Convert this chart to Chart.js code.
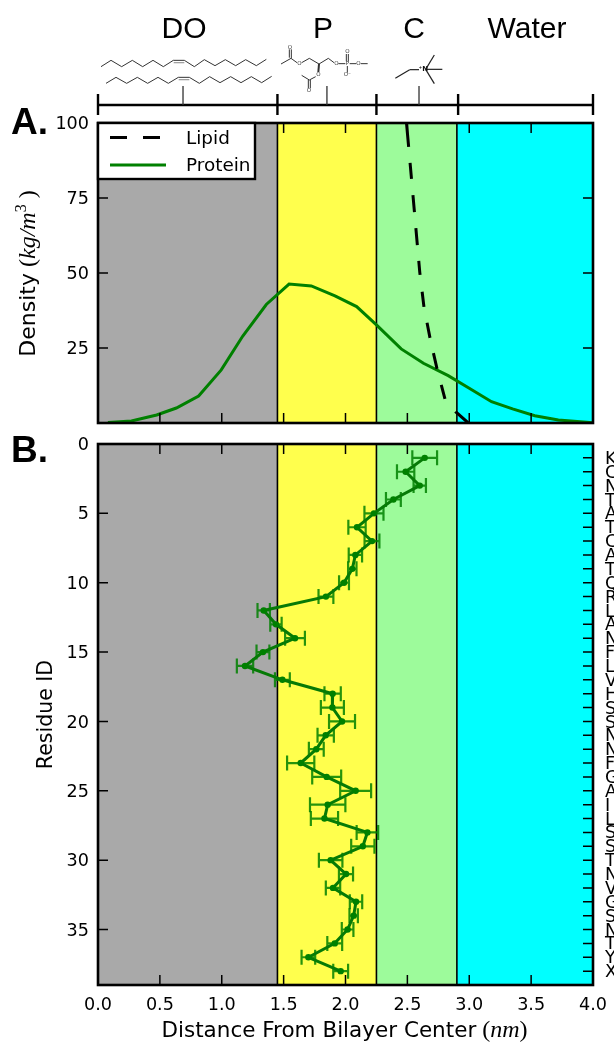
<!DOCTYPE html>
<html><head><meta charset="utf-8">
<style>
html,body{margin:0;padding:0;background:#fff;overflow:hidden;width:614px;height:1043px}
canvas{position:absolute;left:0;display:block}
</style>
<script src="https://cdn.jsdelivr.net/npm/chart.js@4/dist/chart.umd.min.js"></script>
</head><body>
<canvas id="a" width="614" height="433" style="top:0"></canvas>
<canvas id="b" width="614" height="610" style="top:433px"></canvas>
<script>
// ---- data ----
const regionNames = ['DO','P','C','Water'];
const regionEdges = [0,1.45,2.25,2.9,4];
const regionColors = ['#a9a9a9','#ffff4d','#9dfb9b','#00ffff'];
const bracketEdges = [0,1.45,2.25,2.91,4];
const bracketPointers = [0.687,1.85,2.594];

const proteinX = [0.08,0.27,0.474,0.633,0.813,0.996,1.17,1.36,1.544,1.724,1.915,2.09,2.25,2.45,2.63,2.83,3.0,3.18,3.35,3.53,3.72,4.0];
const proteinY = [0.2,0.7,2.67,5,9,17.7,29,39.5,46.3,45.7,42.4,38.8,32.7,24.7,19.9,15.8,11.6,7.1,4.7,2.4,1,0.1];
const lipidX = [2.493,2.545,2.60,2.634,2.683,2.74,2.804,2.889,2.99];
const lipidY = [100,76,50.3,38.7,28.3,18,8,3.8,0.1];

const residues = ['K','C','N','T','A','T','C','A','T','Q','R','L','A','N','F','L','V','H','S','S','N','N','F','G','A','I','L','S','S','T','N','V','G','S','N','T','Y','X'];
const depth = [2.64,2.486,2.60,2.387,2.23,2.093,2.214,2.08,2.055,1.988,1.842,1.339,1.438,1.592,1.333,1.188,1.49,1.896,1.894,1.972,1.84,1.764,1.638,1.848,2.082,1.856,1.83,2.177,2.14,1.88,2.004,1.899,2.085,2.066,2.017,1.913,1.70,1.961];
const depthErr = [0.10,0.07,0.05,0.06,0.077,0.07,0.06,0.054,0.034,0.04,0.06,0.05,0.046,0.08,0.052,0.066,0.06,0.066,0.093,0.105,0.066,0.06,0.11,0.117,0.125,0.143,0.11,0.087,0.094,0.095,0.057,0.058,0.05,0.034,0.047,0.06,0.055,0.06];

const serif = 'italic 24px "Liberation Serif"';
const serifUp = '24px "Liberation Serif"';
const sans = 'DejaVu Sans';
const BLACK = '#000';

function rotatedMixed(ctx, parts, x, y, rot){
  ctx.save();
  ctx.translate(x,y); ctx.rotate(rot);
  let total=0;
  parts.forEach(p=>{ctx.font=p.font; total+=ctx.measureText(p.t).width+(p.gap||0);});
  let cx=-total/2;
  ctx.textAlign='left'; ctx.textBaseline='alphabetic'; ctx.fillStyle=BLACK;
  parts.forEach(p=>{ctx.font=p.font; ctx.fillText(p.t,cx,p.dy||0); cx+=ctx.measureText(p.t).width+(p.gap||0);});
  ctx.restore();
}

function poly(ctx, pts, ox, oy){
  ctx.beginPath();
  pts.forEach((p,i)=>{const x=ox+p[0]/3,y=oy+p[1]/3; i?ctx.lineTo(x,y):ctx.moveTo(x,y);});
  ctx.stroke();
}

const bands = {
  id:'bands',
  beforeDatasetsDraw(c){
    const {ctx,chartArea:a,scales:{x}}=c;
    ctx.save();
    regionColors.forEach((col,i)=>{
      const l=x.getPixelForValue(regionEdges[i]), r=x.getPixelForValue(regionEdges[i+1]);
      ctx.fillStyle=col; ctx.fillRect(l,a.top,r-l,a.bottom-a.top);
    });
    ctx.strokeStyle=BLACK; ctx.lineWidth=1.6;
    regionEdges.slice(1,-1).forEach(v=>{
      const p=x.getPixelForValue(v);
      ctx.beginPath(); ctx.moveTo(p,a.top); ctx.lineTo(p,a.bottom); ctx.stroke();
    });
    ctx.restore();
  }
};

const errorBars = {
  id:'errorBars',
  beforeDatasetsDraw(c){
    if(c.canvas.id!=='b') return;
    const {ctx,scales:{x,y}}=c;
    ctx.save();
    ctx.strokeStyle='rgba(0,128,0,0.85)'; ctx.lineWidth=2.2;
    depth.forEach((d,i)=>{
      const py=y.getPixelForValue(i+1), l=x.getPixelForValue(d-depthErr[i]), r=x.getPixelForValue(d+depthErr[i]);
      ctx.beginPath();
      ctx.moveTo(l,py); ctx.lineTo(r,py);
      ctx.moveTo(l,py-7.5); ctx.lineTo(l,py+7.5);
      ctx.moveTo(r,py-7.5); ctx.lineTo(r,py+7.5);
      ctx.stroke();
    });
    ctx.restore();
  }
};

const frame = {
  id:'frame',
  afterDatasetsDraw(c){
    const {ctx,chartArea:a,scales}=c, {x,y,yr}=scales;
    const L=10;
    ctx.save();
    ctx.strokeStyle=BLACK; ctx.lineWidth=1.5;
    ctx.beginPath();
    x.ticks.forEach(t=>{
      if(t.value<=0||t.value>=4) return;
      const p=x.getPixelForValue(t.value);
      ctx.moveTo(p,a.top); ctx.lineTo(p,a.top+L);
      ctx.moveTo(p,a.bottom); ctx.lineTo(p,a.bottom-L);
    });
    y.ticks.forEach(t=>{
      if(t.value<=y.min||t.value>=y.max) return;
      const p=y.getPixelForValue(t.value);
      ctx.moveTo(a.left,p); ctx.lineTo(a.left+L,p);
      if(!yr){ctx.moveTo(a.right,p); ctx.lineTo(a.right-L,p);}
    });
    if(yr) yr.ticks.forEach(t=>{
      if(t.value<=yr.min||t.value>=yr.max) return;
      const p=yr.getPixelForValue(t.value);
      ctx.moveTo(a.right,p); ctx.lineTo(a.right-L,p);
    });
    ctx.stroke();
    ctx.restore();
  },
  afterDraw(c){
    const {ctx,chartArea:a}=c;
    ctx.save();
    ctx.strokeStyle=BLACK; ctx.lineWidth=2.6;
    ctx.strokeRect(a.left,a.top,a.right-a.left,a.bottom-a.top);
    ctx.restore();
  }
};

const decorA = {
  id:'decorA',
  afterDraw(c){
    const {ctx,chartArea:a,scales:{x}}=c;
    ctx.save();
    // legend
    ctx.fillStyle='#fff'; ctx.strokeStyle=BLACK; ctx.lineWidth=2.4;
    ctx.fillRect(a.left,a.top,157,56); ctx.strokeRect(a.left,a.top,157,56);
    ctx.lineWidth=3;
    ctx.strokeStyle=BLACK; ctx.setLineDash([17,16]);
    ctx.beginPath(); ctx.moveTo(110,137.5); ctx.lineTo(166,137.5); ctx.stroke();
    ctx.setLineDash([]);
    ctx.strokeStyle='#008000';
    ctx.beginPath(); ctx.moveTo(110,165); ctx.lineTo(166,165); ctx.stroke();
    ctx.fillStyle=BLACK; ctx.font='18.4px "'+sans+'"'; ctx.textAlign='left'; ctx.textBaseline='alphabetic';
    c.data.datasets.forEach((d,i)=>ctx.fillText(d.label,186,i?171:144));

    // headings
    ctx.font='30px "Liberation Sans"'; ctx.textAlign='center';
    [184,323,414,527].forEach((px,i)=>ctx.fillText(regionNames[i],px,38));
    ctx.textAlign='left';
    ctx.font='bold 37px "Liberation Sans"';
    ctx.fillText('A.',11,134);

    // bracket
    ctx.strokeStyle=BLACK; ctx.lineWidth=2.4;
    ctx.beginPath();
    ctx.moveTo(x.getPixelForValue(0),105); ctx.lineTo(x.getPixelForValue(4),105);
    bracketEdges.forEach(v=>{const p=x.getPixelForValue(v); ctx.moveTo(p,94); ctx.lineTo(p,115);});
    ctx.stroke();
    ctx.lineWidth=1.3; ctx.strokeStyle='#333';
    ctx.beginPath();
    bracketPointers.forEach(v=>{const p=x.getPixelForValue(v); ctx.moveTo(p,86); ctx.lineTo(p,105);});
    ctx.stroke();

    // lipid structure sketches
    ctx.strokeStyle='#333'; ctx.lineWidth=1; ctx.lineJoin='round';
    poly(ctx,[[18,65],[48,46],[80,65],[112,46],[143,65],[174,46],[205,65],[235,46],[268,46],[298,65],[328,44],[360,62],[391,44],[422,62],[452,44],[484,62],[514,43]],95,45);
    poly(ctx,[[33,115],[63,97],[95,115],[127,97],[158,115],[189,97],[220,115],[250,97],[283,97],[313,115],[344,95],[375,113],[407,95],[438,113],[469,95],[500,113],[530,94]],95,45);
    ctx.strokeStyle='#999'; ctx.lineWidth=1.2;
    poly(ctx,[[236,53],[268,53]],95,45);
    poly(ctx,[[251,104],[283,104]],95,45);
    ctx.strokeStyle='#333'; ctx.lineWidth=1;
    const hg=[
      [[18,72],[48,55],[66,68]],[[43,28],[43,53]],[[49,28],[49,54]],
      [[80,68],[103,55],[132,72],[160,55],[177,68]],[[190,71],[211,71]],
      [[214,42],[214,64]],[[220,42],[220,64]],[[217,78],[217,98]],[[224,71],[244,71]],[[257,71],[278,71]],
      [[122,110],[103,120],[80,106]],[[100,120],[100,145]],[[106,120],[106,145]]
    ];
    hg.forEach(l=>poly(ctx,l,275,40));
    ctx.lineWidth=2; poly(ctx,[[132,72],[130,96]],275,40);
    ctx.lineWidth=1.2; ctx.strokeStyle='#222';
    [[361,115],[404,89],[432,89]].reduce((p,q)=>{poly(ctx,[p,q],275,40);return q;});
    [[478,45],[502,88],[478,131]].forEach(q=>poly(ctx,[[452,88],q],275,40));
    ctx.fillStyle='#333'; ctx.font='5.5px "'+sans+'"'; ctx.textAlign='center'; ctx.textBaseline='middle';
    [[73,71,'O'],[184,71,'O'],[250,71,'O'],[217,36,'O'],[217,105,'O⁻'],[45,22,'O'],[130,104,'O'],[102,152,'O'],[217,71,'P']].forEach(t=>{
      ctx.fillText(t[2],275+t[0]/3,40+t[1]/3);
    });
    ctx.fillStyle='#111'; ctx.font='bold 7px "'+sans+'"';
    ctx.fillText('⁺N',275+445/3,40+88/3);

    // axis title with math part
    rotatedMixed(ctx,[
      {t:'Density',font:'22px "'+sans+'"',gap:6},
      {t:'(',font:serifUp},
      {t:'kg/m',font:serif},
      {t:'3',font:'16px "Liberation Serif"',dy:-9,gap:6},
      {t:')',font:serifUp}
    ],35,273.5,-Math.PI/2);
    ctx.restore();
  }
};

const decorB = {
  id:'decorB',
  afterDraw(c){
    const {ctx}=c;
    ctx.save();
    ctx.fillStyle=BLACK; ctx.textAlign='left'; ctx.textBaseline='alphabetic';
    ctx.font='bold 37px "Liberation Sans"';
    ctx.fillText('B.',11,29);
    rotatedMixed(ctx,[
      {t:'Distance From Bilayer Center',font:'21.5px "'+sans+'"',gap:6},
      {t:'(',font:serifUp},
      {t:'nm',font:serif},
      {t:')',font:serifUp}
    ],344.5,604,0);
    ctx.restore();
  }
};

const tickFont = {family:sans,size:17.6};
const noGrid = {display:false,drawTicks:false};
function noPad(s){s.paddingLeft=s.paddingRight=s.paddingTop=s.paddingBottom=0;}
function xAxis(showLabels,h){
  return {
    type:'linear',min:0,max:4,
    grid:noGrid,border:{display:false},
    ticks:{display:showLabels,stepSize:0.5,autoSkip:false,maxRotation:0,color:BLACK,font:tickFont,padding:10,
      callback:v=>v.toFixed(1)},
    afterFit(s){s.height=h;noPad(s);}
  };
}
function leftFit(s){s.width=98;noPad(s);}

new Chart(document.getElementById('a'),{
  type:'scatter',
  data:{datasets:[
    {label:'Lipid',data:lipidX.map((v,i)=>({x:v,y:lipidY[i]})),showLine:true,pointRadius:0,borderColor:BLACK,borderWidth:3,
     borderDash:[24,16,16,16.3,17.2,16,17,16,14,17,15.2,16.2,15.4,15.6,16.2,16.5,14.5,16.5,17,20],tension:0},
    {label:'Protein',data:proteinX.map((v,i)=>({x:v,y:proteinY[i]})),showLine:true,pointRadius:0,borderColor:'#008000',borderWidth:3,tension:0}
  ]},
  options:{
    responsive:false,animation:false,devicePixelRatio:1,
    layout:{padding:{top:123,right:21,left:0,bottom:0}},
    plugins:{legend:{display:false},tooltip:{enabled:false}},
    scales:{
      x:xAxis(false,10),
      y:{type:'linear',min:0,max:100,grid:noGrid,border:{display:false},
         ticks:{stepSize:25,color:BLACK,font:tickFont,padding:9,labelOffset:1.5,callback:v=>v===0?'':String(v)},
         afterFit:leftFit}
    }
  },
  plugins:[bands,frame,decorA]
});

new Chart(document.getElementById('b'),{
  type:'scatter',
  data:{datasets:[
    {label:'Residue depth',data:depth.map((v,i)=>({x:v,y:i+1})),showLine:true,borderColor:'#067a06',borderWidth:3,
     pointRadius:3.2,pointBorderWidth:0,pointBackgroundColor:'#008000',tension:0}
  ]},
  options:{
    responsive:false,animation:false,devicePixelRatio:1,
    layout:{padding:{top:11,right:0,left:0,bottom:0}},
    plugins:{legend:{display:false},tooltip:{enabled:false}},
    scales:{
      x:xAxis(true,58),
      y:{type:'linear',reverse:true,min:0,max:39,grid:noGrid,border:{display:false},
         title:{display:true,text:'Residue ID',color:BLACK,font:{family:sans,size:20.5},padding:{top:34,bottom:0}},
         ticks:{stepSize:5,color:BLACK,font:tickFont,padding:9,labelOffset:1.5,callback:v=>v%5===0?String(v):''},
         afterFit:leftFit},
      yr:{type:'linear',axis:'y',position:'right',reverse:true,min:0,max:39,grid:noGrid,border:{display:false},
         ticks:{stepSize:1,autoSkip:false,color:BLACK,font:tickFont,padding:12,labelOffset:1.5,
           callback:v=>residues[v-1]||''},
         afterFit(s){s.width=21;noPad(s);}}
    }
  },
  plugins:[bands,errorBars,frame,decorB]
});
</script>
</body></html>
